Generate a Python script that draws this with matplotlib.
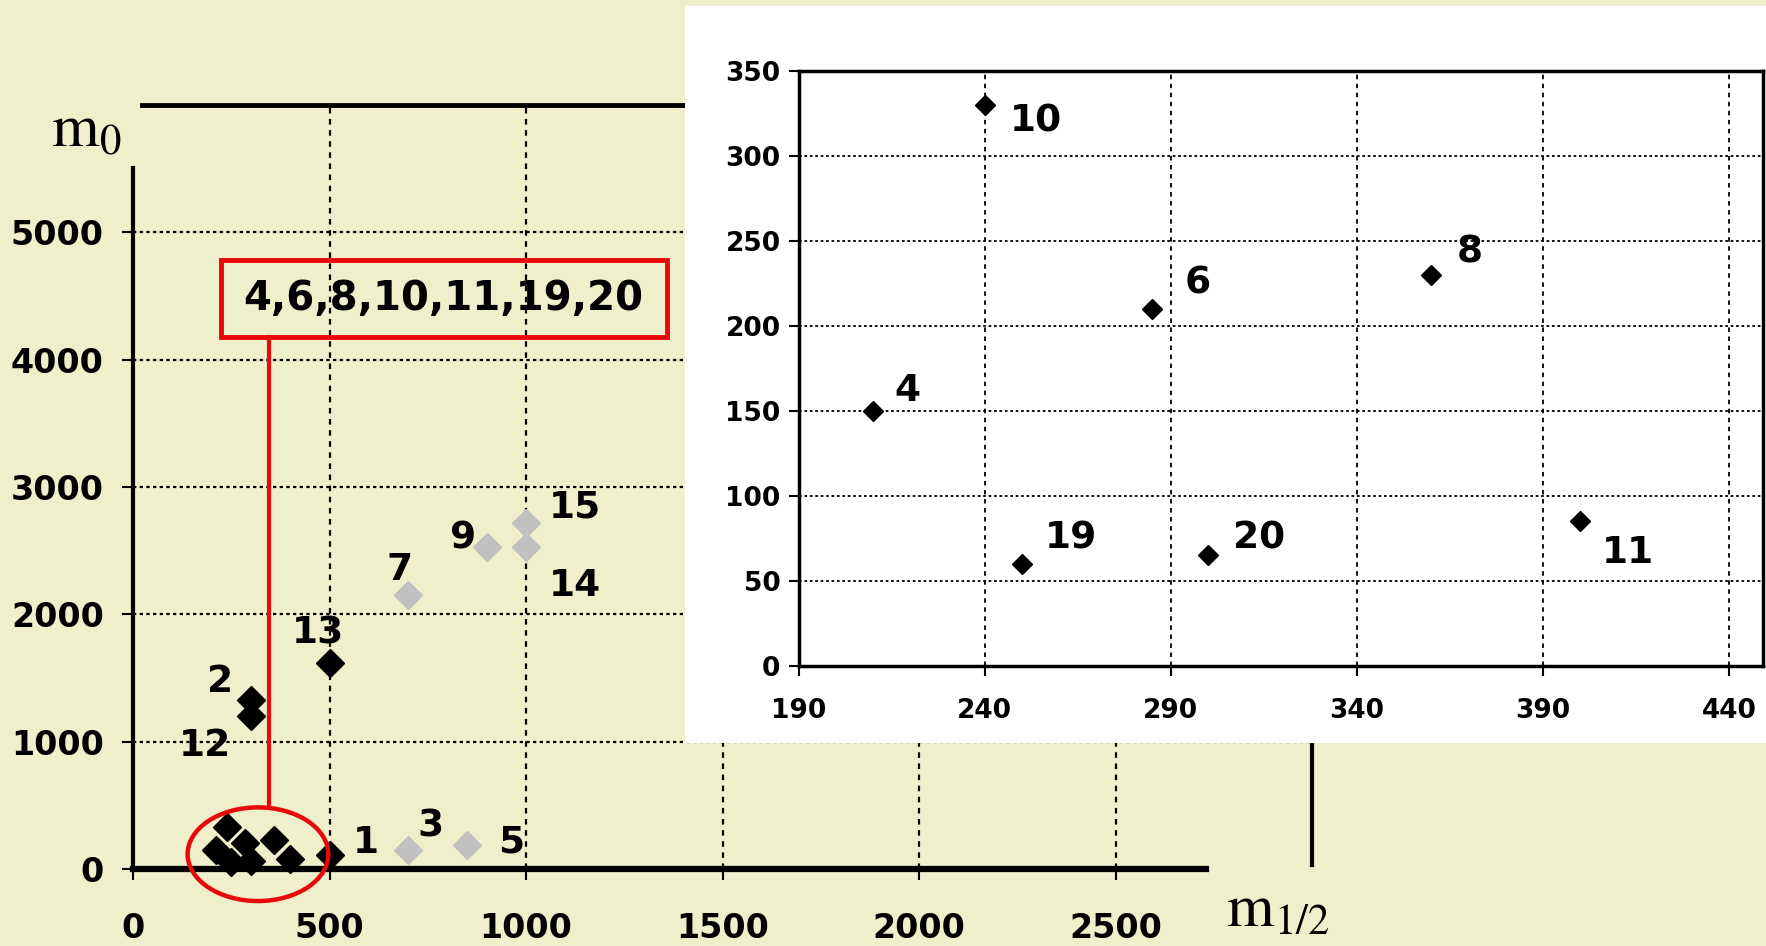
import numpy as np
from matplotlib import pyplot as plt
from matplotlib.patches import Ellipse, Rectangle

plt.rcParams['font.family'] = ['DejaVu Sans']
plt.rcParams['mathtext.fontset'] = 'stix'

# main plot: points outside the zoomed cluster
black_ids = ['1', '2', '12', '13']
black_x = [500, 300, 300, 500]
black_y = [110, 1330, 1200, 1620]
black_off = [(26, 9), (-22, 13), (-33, -21), (-8, 21)]

grey_ids = ['3', '5', '7', '9', '14', '15']
grey_x = [700, 850, 700, 900, 1000, 1000]
grey_y = [150, 190, 2150, 2530, 2530, 2720]
grey_off = [(16, 17), (32, 2), (-6, 18), (-17, 6), (35, -28), (35, 11)]

# zoomed cluster (inset)
zoom_ids = ['4', '10', '6', '8', '19', '20', '11']
zoom_x = [210, 240, 285, 360, 250, 300, 400]
zoom_y = [150, 330, 210, 230, 60, 65, 85]
zoom_off = [(25, 14), (37, -12), (33, 18), (28, 16), (35, 18), (37, 12), (34, -23)]
box_text = '4,6,8,10,11,19,20'

main_xticks = [0, 500, 1000, 1500, 2000, 2500]
main_yticks = [0, 1000, 2000, 3000, 4000, 5000]
zoom_xticks = [190, 240, 290, 340, 390, 440]
zoom_yticks = [0, 50, 100, 150, 200, 250, 300, 350]

bg = '#eff0cb'
red = '#e8080c'
fig = plt.figure(figsize=(17.66, 9.46), dpi=100, facecolor=bg)

# ---- main chart
ax = fig.add_axes([0.0753, 0.0810, 0.6677, 0.8083])
ax.set_facecolor('none')
ax.set_xlim(0, 3000)
ax.set_ylim(0, 6000)
for s in ax.spines.values():
    s.set_visible(False)
ax.set_xticks(main_xticks)
ax.set_yticks(main_yticks)
ax.tick_params(direction='out', length=8, width=1.5, labelsize=24)
ax.tick_params(axis='x', pad=23)
ax.tick_params(axis='y', pad=13)
for t in ax.get_xticklabels() + ax.get_yticklabels():
    t.set_fontweight('bold')
for v in main_xticks[1:]:
    ax.plot([v, v], [0, 6000], color='black', lw=1.6, ls=(0, (2.5, 2.5)), zorder=1)
for v in main_yticks[1:]:
    ax.plot([0, 3000], [v, v], color='black', lw=1.6, ls=(0, (1.5, 1.5)), zorder=1)

# axis lines and the outer frame pieces
ax.plot([0, 0], [0, 5500], color='black', lw=3, clip_on=False, zorder=3)
ax.plot([0, 2730], [0, 0], color='black', lw=4.5, clip_on=False, zorder=3)
ax.plot([23, 3000], [6000, 6000], color='black', lw=3.5, clip_on=False, zorder=3)
ax.plot([3000, 3000], [35, 6000], color='black', lw=3, clip_on=False, zorder=3)

ax.plot(grey_x, grey_y, 'D', color='#c0c0c0', ms=14.5, ls='none', zorder=4)
ax.plot(black_x + zoom_x, black_y + zoom_y, 'D', color='black', ms=14.5,
        ls='none', zorder=4, clip_on=False)
for lab, x, y, o in zip(black_ids + grey_ids, black_x + grey_x,
                        black_y + grey_y, black_off + grey_off):
    ax.annotate(lab, (x, y), xytext=o, textcoords='offset points',
                ha='center', va='center', fontsize=27, fontweight='bold')

ax.add_patch(Ellipse((318, 119), 358, 735, fill=False, ec=red, lw=3.2,
                     clip_on=False, zorder=5))
ax.plot([347, 347], [487, 4177], color=red, lw=3, zorder=5)
ax.add_patch(Rectangle((223, 4177), 1135, 602, fill=False, ec=red,
                       lw=3.5, zorder=5))
ax.text(790, 4478, box_text, ha='center', va='center', fontsize=29,
        fontweight='bold', zorder=6)

fig.text(0.029, 0.845, r'$\mathrm{m}_0$', fontsize=44, va='baseline')
fig.text(0.694, 0.020, r'$\mathrm{m}_{1/2}$', fontsize=44, va='baseline')

# ---- inset
panel = fig.add_axes([0.3878, 0.2143, 0.6122, 0.7798])
panel.set_facecolor('white')
panel.set_xticks([])
panel.set_yticks([])
for s in panel.spines.values():
    s.set_visible(False)

ins = fig.add_axes([0.4522, 0.2964, 0.5459, 0.6286])
ins.set_facecolor('white')
ins.set_xlim(190, 449)
ins.set_ylim(0, 350)
ins.set_xticks(zoom_xticks)
ins.set_yticks(zoom_yticks)
for s in ins.spines.values():
    s.set_linewidth(2.5)
ins.tick_params(direction='out', length=7, width=1.5, labelsize=19)
ins.tick_params(axis='x', pad=16)
ins.tick_params(axis='y', pad=6)
for t in ins.get_xticklabels() + ins.get_yticklabels():
    t.set_fontweight('bold')
for v in zoom_xticks[1:]:
    ins.axvline(v, color='black', lw=1.3, ls=(0, (2.5, 2.5)), zorder=1)
for v in zoom_yticks[1:-1]:
    ins.axhline(v, color='black', lw=1.3, ls=(0, (1.5, 1.5)), zorder=1)
ins.plot(zoom_x, zoom_y, 'D', color='black', ms=10, ls='none', zorder=4)
for lab, x, y, o in zip(zoom_ids, zoom_x, zoom_y, zoom_off):
    ins.annotate(lab, (x, y), xytext=o, textcoords='offset points',
                 ha='center', va='center', fontsize=27, fontweight='bold')

fig.savefig('out.png', dpi=100, facecolor=bg)
